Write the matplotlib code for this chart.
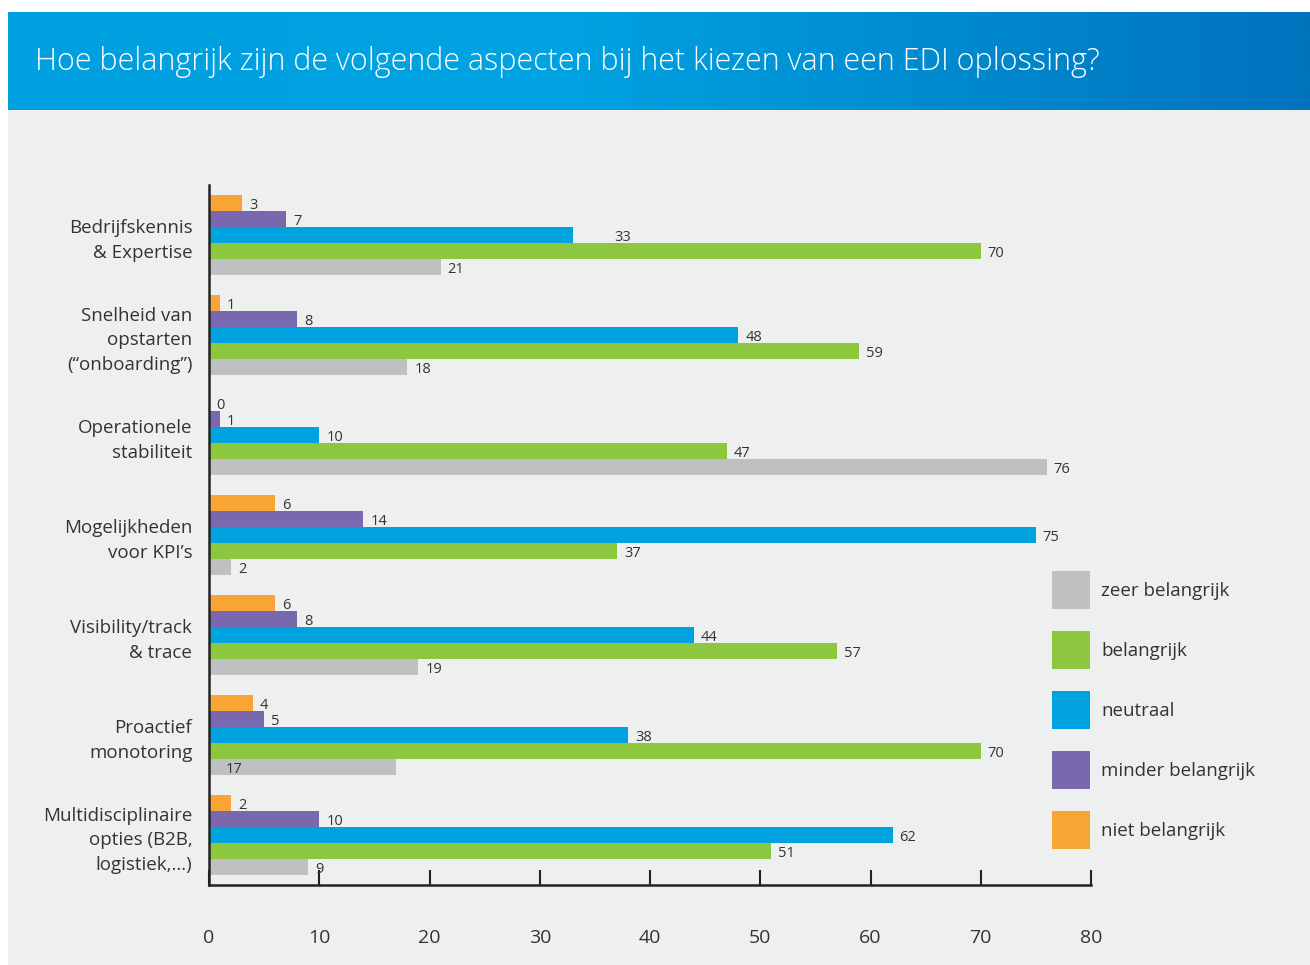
import numpy as np
import matplotlib.pyplot as plt
from matplotlib.patches import Rectangle
from matplotlib.colors import LinearSegmentedColormap

plt.rcParams['font.family'] = ['Open Sans', 'DejaVu Sans']

categories = [
    'Bedrijfskennis\n& Expertise',
    'Snelheid van\nopstarten\n(\u201conboarding\u201d)',
    'Operationele\nstabiliteit',
    'Mogelijkheden\nvoor KPI\u2019s',
    'Visibility/track\n& trace',
    'Proactief\nmonotoring',
    'Multidisciplinaire\nopties (B2B,\nlogistiek,...)',
]
series_names = ['niet belangrijk', 'minder belangrijk', 'neutraal', 'belangrijk', 'zeer belangrijk']
niet_belangrijk = [3, 1, 0, 6, 6, 4, 2]
minder_belangrijk = [7, 8, 1, 14, 8, 5, 10]
neutraal = [33, 48, 10, 75, 44, 38, 62]
belangrijk = [70, 59, 47, 37, 57, 70, 51]
zeer_belangrijk = [21, 18, 76, 2, 19, 17, 9]
x_ticks = [0, 10, 20, 30, 40, 50, 60, 70, 80]

colors = ['#f9a535', '#7a68ae', '#00a3e0', '#8dc63f', '#bfc0c2']
values = [niet_belangrijk, minder_belangrijk, neutraal, belangrijk, zeer_belangrijk]
text_col = '#333333'

# a couple of value labels sit away from the bar end (offset in points)
label_shift = {(2, 0): 25, (4, 5): -128}

W, H = 1310, 965
fig = plt.figure(figsize=(W / 100, H / 100), dpi=100)
fig.patch.set_facecolor('white')

# light body panel
fig.patches.append(Rectangle((8 / W, 0), 1 - 8 / W, 1 - 110 / H, transform=fig.transFigure,
                             facecolor='#eef0ef', edgecolor='none', zorder=-5))

# header band with blue gradient
hax = fig.add_axes([8 / W, 1 - 110 / H, 1 - 8 / W, 98 / H])
cmap = LinearSegmentedColormap.from_list('hdr', [(0, '#009fe0'), (0.42, '#00a3e2'), (1, '#0073bd')])
hax.imshow(np.linspace(0, 1, 512)[None, :], aspect='auto', cmap=cmap, extent=(0, 1, 0, 1))
hax.set_axis_off()
fig.text(35 / W, 1 - 62 / H, 'Hoe belangrijk zijn de volgende aspecten bij het kiezen van een EDI oplossing?',
         color='white', fontsize=22, va='center', ha='left', fontweight='light')

ax = fig.add_axes([209 / W, 1 - 885 / H, 882 / W, 700 / H])
ax.set_facecolor('none')

bar_h = 0.16
n = len(categories)
for s, (name, vals, col) in enumerate(zip(series_names, values, colors)):
    ys = np.arange(n) + s * bar_h + bar_h / 2
    ax.barh(ys, vals, height=bar_h, color=col, label=name, zorder=2)
    for i, v in enumerate(vals):
        dx = 5 + label_shift.get((s, i), 0)
        ax.annotate(str(v), (v, ys[i]), xytext=(dx, -1.5), textcoords='offset points',
                    ha='left', va='center', fontsize=10.5, color=text_col, zorder=3)

ax.set_xlim(0, 80)
ax.set_ylim(n - 0.1, -0.1)
ax.set_xticks(x_ticks)
ax.set_xticklabels([str(t) for t in x_ticks])
ax.tick_params(axis='x', direction='in', length=11, width=1.5, color='#222222',
               pad=32, labelsize=14, labelcolor=text_col)
ax.set_yticks(np.arange(n) + 2.5 * bar_h)
ax.set_yticklabels(categories, fontsize=13.5, color=text_col, linespacing=1.48)
ax.tick_params(axis='y', length=0, pad=12)
for side in ['top', 'right']:
    ax.spines[side].set_visible(False)
for side in ['left', 'bottom']:
    ax.spines[side].set_linewidth(1.8)
    ax.spines[side].set_color('#222222')

# legend: square swatches stacked on the right, top entry = last series
box, step = 38, 60
for k, (name, col) in enumerate(zip(series_names[::-1], colors[::-1])):
    top = 571 + k * step
    fig.patches.append(Rectangle((1052 / W, 1 - (top + box) / H), box / W, box / H,
                                 transform=fig.transFigure, facecolor=col, edgecolor='none'))
    fig.text(1101 / W, 1 - (top + box / 2 + 1) / H, name, fontsize=13.5, color=text_col,
             ha='left', va='center')

fig.savefig('out.png', dpi=100)
